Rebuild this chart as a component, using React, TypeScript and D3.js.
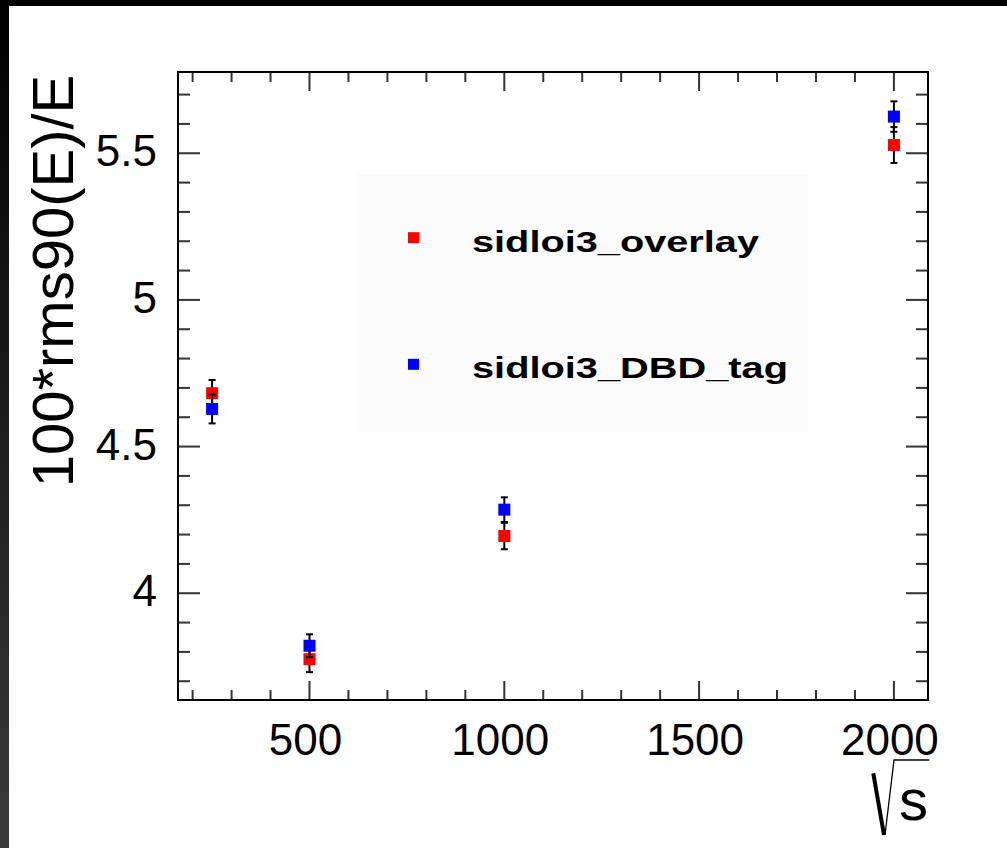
import React from "react";
import * as d3 from "d3";

const energies = [250, 500, 1000, 2000];
const overlayValues = [4.682, 3.775, 4.195, 5.528];
const overlayErrors = [0.045, 0.044, 0.045, 0.061];
const dbdValues = [4.628, 3.821, 4.285, 5.625];
const dbdErrors = [0.049, 0.039, 0.042, 0.052];
const xTickLabels = [500, 1000, 1500, 2000];
const yTickLabels = [4, 4.5, 5, 5.5];
const seriesNames = ["sidloi3_overlay", "sidloi3_DBD_tag"];
const seriesColors = ["#ff0000", "#0000ff"];

const W = 1007;
const H = 848;
const L = 178, R = 928, T = 72, B = 700;

export default function App() {
  const x = d3.scaleLinear().domain([162.5, 2087.5]).range([L, R]);
  const y = d3.scaleLinear().domain([3.636, 5.777]).range([B, T]);
  const xMinor = d3.range(200, 2001, 100);
  const yMinor = d3.range(3.7, 5.75, 0.1).map((v) => Math.round(v * 10) / 10);
  const font = "'Liberation Sans', Arial, Helvetica, sans-serif";
  const series = [
    { vals: overlayValues, errs: overlayErrors, color: seriesColors[0] },
    { vals: dbdValues, errs: dbdErrors, color: seriesColors[1] },
  ];
  const isMajorX = (v: number) => v % 500 === 0;
  const isMajorY = (v: number) => Math.abs(v * 2 - Math.round(v * 2)) < 1e-6;
  const legendLens = [287, 316];

  return (
    <svg width={W} height={H} style={{ position: "absolute", left: 0, top: 0, background: "#fff" }} fontFamily={font}>
      <defs>
        <linearGradient id="leftg" x1="0" y1="0" x2="0" y2="1">
          <stop offset="0" stopColor="#000" />
          <stop offset="1" stopColor="#3a3a3a" />
        </linearGradient>
      </defs>
      <rect x={0} y={0} width={W} height={H} fill="#fff" />
      <rect x={0} y={0} width={9} height={H} fill="url(#leftg)" />
      <rect x={0} y={0} width={W} height={6} fill="#000" />

      {/* legend box */}
      <rect x={358} y={173} width={450} height={259} fill="#fbfbfb" />

      {/* ticks */}
      {xMinor.map((v) => {
        const len = isMajorX(v) ? 19 : 10;
        return (
          <g key={"xt" + v} stroke="#333" strokeWidth={2}>
            <line x1={x(v)} x2={x(v)} y1={B} y2={B - len} />
            <line x1={x(v)} x2={x(v)} y1={T} y2={T + len} />
          </g>
        );
      })}
      {yMinor.map((v) => {
        const len = isMajorY(v) ? 22 : 12;
        return (
          <g key={"yt" + v} stroke="#333" strokeWidth={2}>
            <line x1={L} x2={L + len} y1={y(v)} y2={y(v)} />
            <line x1={R} x2={R - len} y1={y(v)} y2={y(v)} />
          </g>
        );
      })}

      {/* frame */}
      <rect x={L} y={T} width={R - L} height={B - T} fill="none" stroke="#000" strokeWidth={2} />

      {/* tick labels */}
      {xTickLabels.map((v) => (
        <text key={"xl" + v} x={x(v) - 4} y={755} fontSize={44} textAnchor="middle" fill="#000">
          {v}
        </text>
      ))}
      {yTickLabels.map((v) => (
        <text key={"yl" + v} x={157} y={y(v) + 13} fontSize={44} textAnchor="end" fill="#000">
          {v}
        </text>
      ))}

      {/* y title */}
      <text transform="translate(73,281) rotate(-90)" fontSize={58} textAnchor="middle" fill="#000">
        100*rms90(E)/E
      </text>

      {/* x title sqrt(s) */}
      <path d="M873.3,773.3 L884,835" stroke="#000" strokeWidth={4} fill="none" />
      <path d="M885,835 L894,760 L929.3,760" stroke="#000" strokeWidth={1.3} fill="none" />
      <text x={899} y={820} fontSize={58} fill="#000">s</text>

      {/* data */}
      {series.map((s, si) => (
        <g key={"s" + si}>
          {energies.map((e, i) => {
            const cx = x(e);
            const top = y(s.vals[i] + s.errs[i]);
            const bot = y(s.vals[i] - s.errs[i]);
            return (
              <g key={"e" + i} stroke="#000" strokeWidth={2}>
                <line x1={cx} x2={cx} y1={top} y2={bot} />
                <line x1={cx - 3.5} x2={cx + 3.5} y1={top} y2={top} />
                <line x1={cx - 3.5} x2={cx + 3.5} y1={bot} y2={bot} />
              </g>
            );
          })}
          {energies.map((e, i) => (
            <rect key={"m" + i} x={x(e) - 6} y={y(s.vals[i]) - 6} width={12} height={12} fill={s.color} />
          ))}
        </g>
      ))}

      {/* legend */}
      {seriesNames.map((n, i) => {
        const ly = [237.7, 364.3][i];
        return (
          <g key={"lg" + i}>
            <rect x={408} y={ly - 5.5} width={11} height={11} fill={seriesColors[i]} />
            <text
              x={472}
              y={ly + 14}
              fontSize={29}
              fontWeight="bold"
              fill="#000"
              textLength={legendLens[i]}
              lengthAdjust="spacingAndGlyphs"
            >
              {n}
            </text>
          </g>
        );
      })}
    </svg>
  );
}
